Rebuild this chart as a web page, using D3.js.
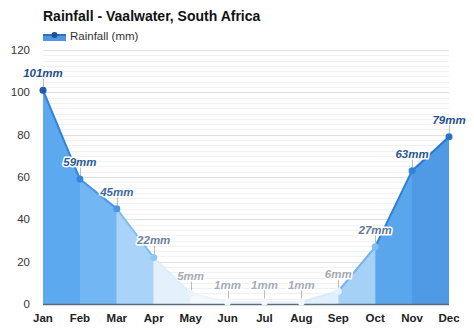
<!DOCTYPE html>
<html>
<head>
<meta charset="utf-8">
<script src="https://cdn.jsdelivr.net/npm/d3@7"></script>
<style>
  html, body { margin: 0; padding: 0; background: #fff; }
  svg { display: block; font-family: "Liberation Sans", Arial, sans-serif; }
</style>
</head>
<body>
<svg id="chart" width="474" height="331"></svg>
<script>
// Monthly rainfall, Vaalwater
const months = ["Jan", "Feb", "Mar", "Apr", "May", "Jun", "Jul", "Aug", "Sep", "Oct", "Nov", "Dec"];
const rainfall = [101, 59, 45, 22, 5, 1, 1, 1, 6, 27, 63, 79];
const yTicks = [0, 20, 40, 60, 80, 100, 120];

const title = "Rainfall - Vaalwater, South Africa";
const seriesName = "Rainfall (mm)";

(function draw() {
  const H = 331;
  const plotL = 43, plotR = 449, plotT = 50, plotB = 304;

  const svg = d3.select("#chart");

  const x = d3.scalePoint().domain(months).range([plotL, plotR]);
  const y = d3.scaleLinear().domain([0, 120]).range([plotB, plotT]);

  // Each month-to-month band is shaded by the rainfall of the month it runs into
  const bandFill = d3.scaleLinear()
    .domain([0, 2, 6, 22, 27, 45, 60, 80])
    .range(["#f4f9fe", "#f1f8fe", "#e0effc", "#a9d3f8", "#a6d1f7", "#72b6f3", "#5ba8ef", "#4f99e4"])
    .clamp(true);
  const lineColor = d3.scaleLinear()
    .domain([0, 6, 22, 45, 60, 80])
    .range(["#eef6fd", "#d9ebfb", "#7fbaf0", "#4a98e3", "#2f80d8", "#2a78d0"])
    .clamp(true);
  const dotColor = d3.scaleLinear()
    .domain([0, 6, 22, 45, 60, 100])
    .range(["#f4f9fe", "#e6f2fc", "#92c7f4", "#4a96e0", "#3585da", "#1c5cb5"])
    .clamp(true);
  const labelColor = d3.scaleLinear()
    .domain([0, 8, 25, 45, 70])
    .range(["#a6aeb7", "#a0a9b3", "#5f7a99", "#3a6aa4", "#1f4f8e"])
    .clamp(true);

  // Grid: major lines every 20, fine lines every 2.5
  const minor = d3.range(0, 120.01, 2.5);
  svg.append("g").selectAll("line").data(minor).join("line")
    .attr("x1", plotL).attr("x2", plotR)
    .attr("y1", d => Math.round(y(d)) + 0.5).attr("y2", d => Math.round(y(d)) + 0.5)
    .attr("stroke", d => (d % 20 === 0) ? "#e0e0e0" : "#f1f1f1")
    .attr("stroke-width", 1);

  const data = months.map((m, i) => ({ m, v: rainfall[i] }));

  const area = d3.area().x(d => x(d.m)).y0(y(0)).y1(d => y(d.v));
  const line = d3.line().x(d => x(d.m)).y(d => y(d.v));
  const areaPath = area(data);
  const linePath = line(data);

  const defs = svg.append("defs");
  const bands = d3.range(months.length - 1).map(i => ({
    i, x0: x(months[i]), x1: x(months[i + 1]), to: rainfall[i + 1]
  }));

  defs.selectAll("clipPath").data(bands).join("clipPath")
    .attr("id", d => "band" + d.i)
    .append("rect")
    .attr("x", d => d.x0).attr("width", d => d.x1 - d.x0)
    .attr("y", 0).attr("height", H);

  svg.append("g").selectAll("path").data(bands).join("path")
    .attr("d", areaPath)
    .attr("clip-path", d => `url(#band${d.i})`)
    .attr("fill", d => bandFill(d.to));

  svg.append("g").selectAll("path").data(bands).join("path")
    .attr("d", linePath)
    .attr("clip-path", d => `url(#band${d.i})`)
    .attr("fill", "none")
    .attr("stroke", d => lineColor(d.to))
    .attr("stroke-width", 2)
    .attr("stroke-linejoin", "round");

  // Baseline
  svg.append("line")
    .attr("x1", plotL).attr("x2", plotR)
    .attr("y1", y(0) + 0.5).attr("y2", y(0) + 0.5)
    .attr("stroke", "#5b6b7c").attr("stroke-width", 1.5);

  // Leader ticks from labels down to points
  svg.append("g").selectAll("line").data(data).join("line")
    .attr("x1", d => Math.round(x(d.m)) + 0.5).attr("x2", d => Math.round(x(d.m)) + 0.5)
    .attr("y1", d => y(d.v) - 12).attr("y2", d => y(d.v) - 3)
    .attr("stroke", "#b9bec4").attr("stroke-width", 1);

  // Points
  svg.append("g").selectAll("circle").data(data).join("circle")
    .attr("cx", d => x(d.m)).attr("cy", d => y(d.v))
    .attr("r", 3.5)
    .attr("fill", d => dotColor(d.v));

  // Value labels with white halo
  svg.append("g").selectAll("text").data(data).join("text")
    .attr("x", d => x(d.m)).attr("y", d => y(d.v) - 13)
    .attr("text-anchor", "middle")
    .attr("font-size", 11.5).attr("font-weight", "bold").attr("font-style", "italic")
    .attr("fill", d => labelColor(d.v))
    .attr("stroke", "#fff").attr("stroke-width", 3).attr("paint-order", "stroke")
    .attr("stroke-linejoin", "round")
    .text(d => d.v + "mm");

  // Y axis labels
  svg.append("g").selectAll("text").data(yTicks).join("text")
    .attr("x", 30).attr("y", d => y(d) + 4)
    .attr("text-anchor", "end")
    .attr("font-size", 11.5).attr("fill", "#333")
    .text(d => d);

  // X axis labels
  svg.append("g").selectAll("text").data(months).join("text")
    .attr("x", d => x(d)).attr("y", 322)
    .attr("text-anchor", "middle")
    .attr("font-size", 11.5).attr("font-weight", "bold").attr("fill", "#222")
    .text(d => d);

  // Title
  svg.append("text")
    .attr("x", 43).attr("y", 21)
    .attr("font-size", 14).attr("font-weight", "bold").attr("fill", "#111")
    .text(title);

  // Legend
  const lg = svg.append("g");
  lg.append("rect").attr("x", 43).attr("y", 35).attr("width", 23).attr("height", 6).attr("fill", "#4f97e2");
  lg.append("line").attr("x1", 43).attr("x2", 66).attr("y1", 35).attr("y2", 35)
    .attr("stroke", "#2c6fc4").attr("stroke-width", 2);
  lg.append("circle").attr("cx", 54.5).attr("cy", 35).attr("r", 3).attr("fill", "#1c4f9c");
  lg.append("text").attr("x", 70).attr("y", 40)
    .attr("font-size", 11.5).attr("fill", "#333")
    .text(seriesName);
})();
</script>
</body>
</html>
